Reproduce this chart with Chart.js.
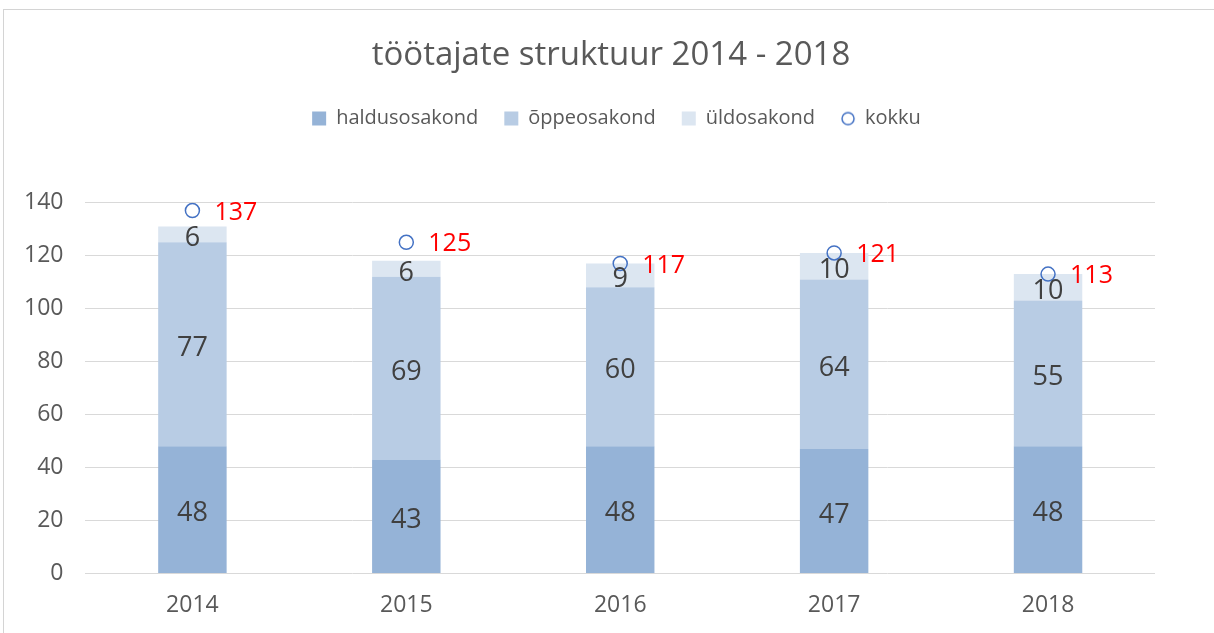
<!DOCTYPE html>
<html>
<head>
<meta charset="utf-8">
<script src="https://cdn.jsdelivr.net/npm/chart.js@4.4.0/dist/chart.umd.min.js"></script>
<style>
  html, body { margin: 0; padding: 0; background: #fff; overflow: hidden; }
  #raam { position: absolute; left: 3px; top: 9px; width: 1300px; height: 700px; border-left: 1.5px solid #d4d4d4; border-top: 1.5px solid #d4d4d4; }
  #graafik { position: absolute; left: 0; top: 0; }
</style>
</head>
<body>
<div id="raam"></div>
<canvas id="graafik" width="1214" height="633"></canvas>
<script>
// andmed
var aastad = ['2014', '2015', '2016', '2017', '2018'];
var haldusosakond = [48, 43, 48, 47, 48];
var oppeosakond = [77, 69, 60, 64, 55];
var uldosakond = [6, 6, 9, 10, 10];
var kokku = [137, 125, 117, 121, 113];

var font = "'Open Sans', sans-serif";
var hall = '#595959';

// legendi ring (väike, nagu Excelis)
var ring = document.createElement('canvas');
ring.width = 16; ring.height = 16;
var rc = ring.getContext('2d');
rc.strokeStyle = '#4472C4';
rc.lineWidth = 1.5;
rc.beginPath(); rc.arc(8, 8, 6, 0, Math.PI * 2); rc.stroke();

// väärtuste sildid
var sildid = {
  id: 'sildid',
  afterDatasetsDraw: function (chart) {
    var ctx = chart.ctx;
    ctx.save();
    ctx.textBaseline = 'middle';
    chart.data.datasets.forEach(function (ds, i) {
      var meta = chart.getDatasetMeta(i);
      meta.data.forEach(function (el, j) {
        if (ds.type === 'line') {
          ctx.fillStyle = '#FF0000';
          ctx.font = '25px ' + font;
          ctx.textAlign = 'left';
          ctx.fillText(ds.data[j], el.x + 22, el.y + 2);
        } else {
          ctx.fillStyle = '#404040';
          ctx.font = '27px ' + font;
          ctx.textAlign = 'center';
          ctx.fillText(ds.data[j], el.x, (el.y + el.base) / 2 + 4);
        }
      });
    });
    ctx.restore();
  }
};

var legendiVahe = {
  id: 'legendiVahe',
  beforeInit: function (chart) {
    var fit = chart.legend.fit;
    chart.legend.fit = function () {
      fit.bind(chart.legend)();
      this.height += 64;
    };
  },
  // pealkiri ja legend kogu laiuse keskele
  afterLayout: function (chart) {
    chart.titleBlock.left = 0;
    chart.titleBlock.right = 1222;
    chart.legend.left = 0;
    chart.legend.right = 1233;
  }
};

var ctx = document.getElementById('graafik').getContext('2d');
var minuChart = new Chart(ctx, {
  type: 'bar',
  data: {
    labels: aastad,
    datasets: [
      { label: 'haldusosakond', data: haldusosakond, backgroundColor: '#95B3D7', stack: 'a', order: 2 },
      { label: 'õppeosakond', data: oppeosakond, backgroundColor: '#B8CCE4', stack: 'a', order: 2 },
      { label: 'üldosakond', data: uldosakond, backgroundColor: '#DCE6F1', stack: 'a', order: 2 },
      { type: 'line', label: 'kokku', data: kokku, stack: 'k', showLine: false, pointStyle: 'circle', pointRadius: 7, pointBorderWidth: 1.5, pointBorderColor: '#4472C4', pointBackgroundColor: 'rgba(0,0,0,0)', borderColor: '#4472C4', order: 1 }
    ]
  },
  options: {
    responsive: false,
    animation: false,
    devicePixelRatio: 1,
    categoryPercentage: 1,
    barPercentage: 0.32,
    layout: { padding: { left: 2, right: 59, top: 36, bottom: 0 } },
    plugins: {
      title: { display: true, text: 'töötajate struktuur 2014 - 2018', color: hall, font: { family: font, size: 33, weight: 'normal' }, padding: { top: 0, bottom: 7 } },
      legend: {
        position: 'top',
        labels: {
          color: hall,
          font: { family: font, size: 20 },
          usePointStyle: true,
          boxHeight: 14,
          boxWidth: 14,
          padding: 26,
          generateLabels: function (chart) {
            return chart.data.datasets.map(function (ds, i) {
              return {
                text: ds.label,
                fillStyle: ds.type === 'line' ? 'rgba(0,0,0,0)' : ds.backgroundColor,
                strokeStyle: ds.type === 'line' ? '#4472C4' : ds.backgroundColor,
                lineWidth: 0,
                pointStyle: ds.type === 'line' ? ring : 'rect',
                fontColor: hall,
                datasetIndex: i
              };
            });
          }
        }
      },
      tooltip: { enabled: false }
    },
    scales: {
      x: {
        grid: { display: false, drawTicks: false },
        border: { display: false },
        ticks: { color: hall, font: { family: font, size: 23 }, padding: 18 },
        afterFit: function (scale) { scale.height -= 4; }
      },
      y: {
        stacked: true,
        min: 0,
        max: 140,
        ticks: { stepSize: 20, color: hall, font: { family: font, size: 23 }, padding: 22 },
        grid: { color: '#d9d9d9', drawTicks: false },
        border: { display: false }
      }
    }
  },
  plugins: [sildid, legendiVahe]
});
</script>
</body>
</html>
